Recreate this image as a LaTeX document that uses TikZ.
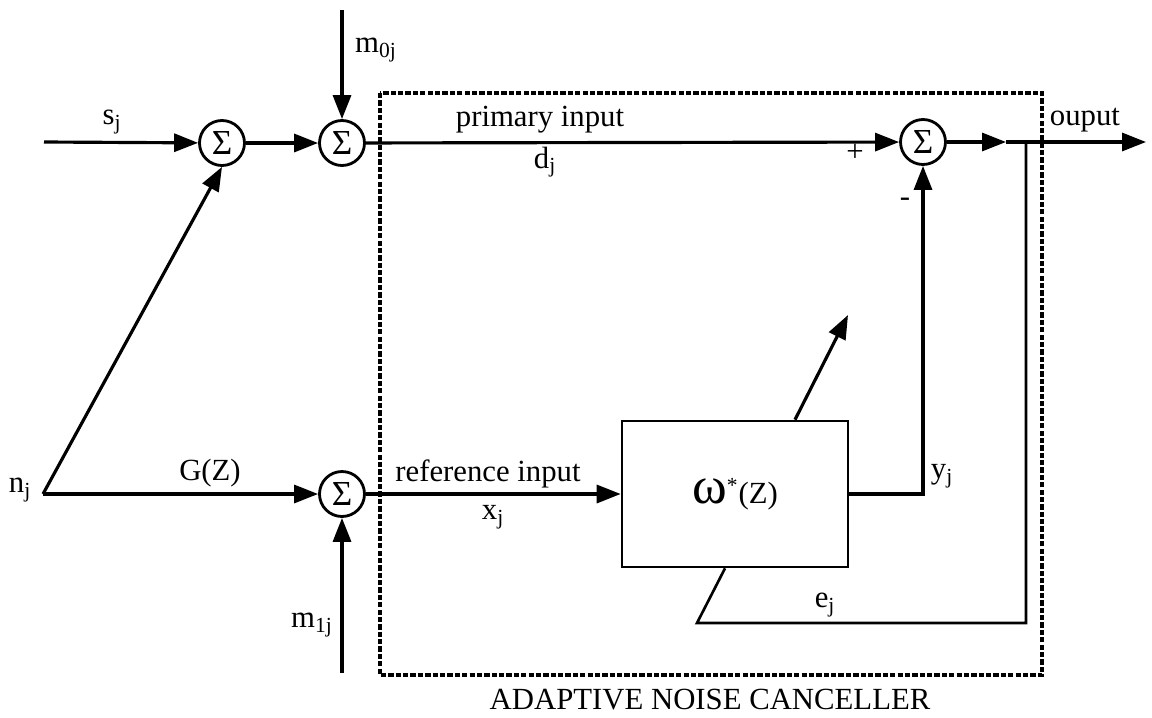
\documentclass[tikz,border=0pt]{standalone}
\usepackage{fontspec}
\setmainfont{Liberation Serif}
\usetikzlibrary{arrows.meta,positioning}
\newcommand{\jsub}[2]{#1\textsubscript{#2}}
\tikzset{
  sumnode/.style={circle,draw,line width=1.6pt,minimum size=0.9cm,inner sep=0pt,font=\fontsize{20}{22}\selectfont},
  sig/.style={line width=1.8pt},
  arr/.style={sig,-{Triangle[length=0.48cm,width=0.36cm]}},
  lbl/.style={font=\fontsize{17.5}{20}\selectfont,inner sep=1pt},
}
\begin{document}
\begin{tikzpicture}[x=0.02cm,y=-0.02cm]
        \useasboundingbox (0,0) rectangle (1152,717);
        % canceller frame
        \draw [line width=1.9pt,dash pattern=on 3pt off 1.2pt] (380,93) rectangle (1042,675);
        \node[lbl] (ancLbl) at (710,700) {ADAPTIVE NOISE CANCELLER};
        % summing junctions and filter
        \node[sumnode] (sumA) at (222,143) {Σ};
        \node[sumnode] (sumB) at (342,143) {Σ};
        \node[sumnode] (sumC) at (342,494) {Σ};
        \node[sumnode] (sumD) at (923,142) {Σ};
        \node[draw,line width=1.5pt,minimum width=4.52cm,minimum height=2.92cm,lbl] (filt) at (735,494)
             {{\fontsize{30}{30}\selectfont ω}\textsuperscript{*}(Z)};
        % free ends
        \coordinate (sIn) at (44,142);\coordinate (nIn) at (43,494);
        \coordinate (mTop) at (342,10);\coordinate (mBot) at (342,673);
        \coordinate (mid) at (1006,142);\coordinate (out) at (1146,142);
        \coordinate (tap) at (1026,142);\coordinate (eL) at (697,623);
        \coordinate (adapt) at (848,315);
        % signal lines
        \draw [arr] (sIn) -- (sumA);\draw [arr] (sumA) -- (sumB);
        \draw [arr] (mTop) -- (sumB);
        \draw [arr] (nIn) -- (sumA.south);\draw [arr] (nIn) -- (sumC);
        \draw [arr] (mBot) -- (sumC);
        \draw [arr] (sumC) -- (filt);
        \draw [arr] (sumB) -- (sumD);
        \draw [arr] (sumD) -- (mid);\draw [arr] (mid) -- (out);
        \draw [arr] (filt.east) -| (sumD.south);
        \draw [line width=1.5pt] (tap) |- (eL) -- ([xshift=-0.2cm]filt.south);
        \draw [arr] ([xshift=1.2cm]filt.north) -- (adapt);
        % labels
        \node[lbl] (sLbl) at (112,122) {\jsub{s}{j}};
        \node[lbl] (m0Lbl) at (376,50) {\jsub{m}{0j}};
        \node[lbl] (priLbl) at (540,120) {primary input};
        \node[lbl] (dLbl) at (545,162) {\jsub{d}{j}};
        \node[lbl] (plusLbl) at (855,153) {+};
        \node[lbl] (minusLbl) at (905,202) {-};
        \node[lbl] (outLbl) at (1085,120) {ouput};
        \node[lbl] (nLbl) at (20,490) {\jsub{n}{j}};
        \node[lbl] (gLbl) at (210,473) {G(Z)};
        \node[lbl] (m1Lbl) at (312,625) {\jsub{m}{1j}};
        \node[lbl] (refLbl) at (488,474) {reference input};
        \node[lbl] (xLbl) at (493,517) {\jsub{x}{j}};
        \node[lbl] (yLbl) at (942,476) {\jsub{y}{j}};
        \node[lbl] (eLbl) at (825,605) {\jsub{e}{j}};
\end{tikzpicture}
\end{document}
